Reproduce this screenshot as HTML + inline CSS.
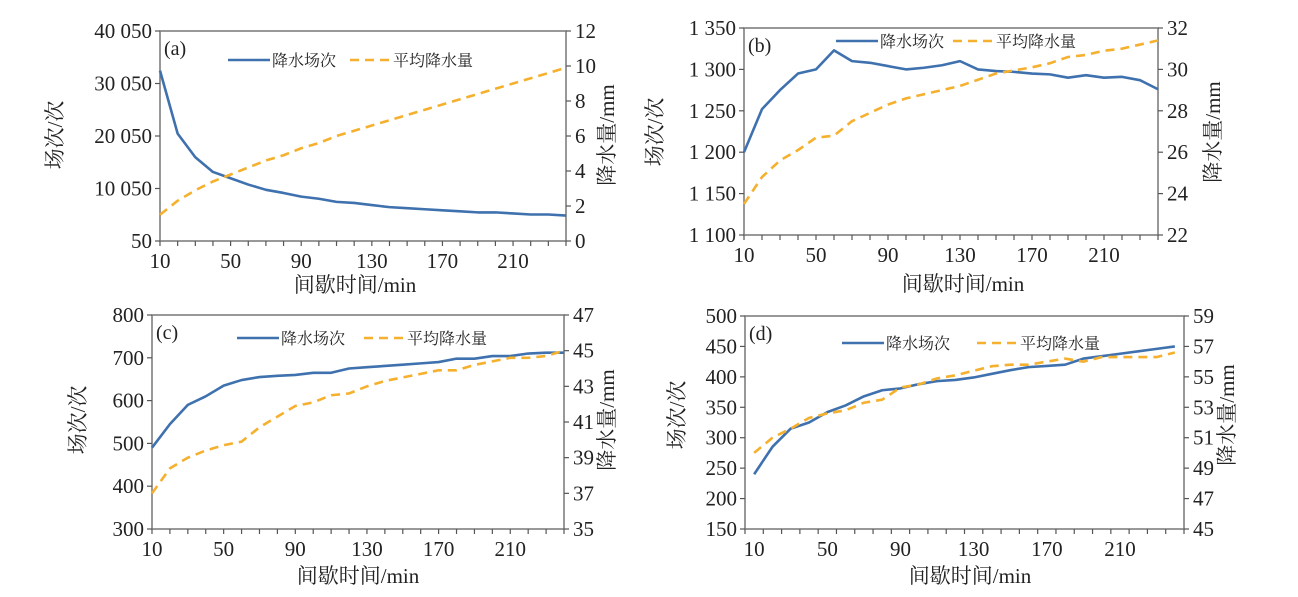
<!DOCTYPE html>
<html><head><meta charset="utf-8">
<style>
html,body{margin:0;padding:0;background:#fff;}
svg{display:block;font-family:"Liberation Serif","Noto Serif CJK SC",serif;}
</style></head>
<body>
<svg id="chart" width="1298" height="597" viewBox="0 0 1298 597"></svg>
<script>
const categories = [10,20,30,40,50,60,70,80,90,100,110,120,130,140,150,160,170,180,190,200,210,220,230,240];
const xTickLabels = [10,50,90,130,170,210];
const countA = [32500,20500,16000,13200,12000,10800,9800,9200,8500,8100,7500,7300,6900,6500,6300,6100,5900,5700,5500,5500,5300,5100,5100,4900];
const rainA = [1.5,2.3,2.9,3.4,3.8,4.2,4.6,4.9,5.3,5.6,6.0,6.3,6.6,6.9,7.2,7.5,7.8,8.1,8.4,8.7,9.0,9.3,9.6,9.9];
const countB = [1200,1252,1275,1295,1300,1323,1310,1308,1304,1300,1302,1305,1310,1300,1298,1297,1295,1294,1290,1293,1290,1291,1287,1276];
const rainB = [23.5,24.8,25.6,26.1,26.7,26.8,27.5,27.9,28.3,28.6,28.8,29.0,29.2,29.5,29.8,29.95,30.1,30.3,30.6,30.7,30.9,31.0,31.2,31.4];
const countC = [490,545,590,610,635,648,655,658,660,665,665,675,678,681,684,687,690,698,698,704,704,710,712,712];
const rainC = [37.0,38.4,39.0,39.4,39.7,39.9,40.7,41.3,41.9,42.1,42.5,42.6,43.0,43.3,43.5,43.7,43.9,43.9,44.2,44.4,44.6,44.6,44.7,45.0];
const countD = [240,285,315,325,342,353,368,378,381,388,393,395,399,405,411,416,418,420,430,434,438,442,446,450];
const rainD = [50.0,51.0,51.6,52.3,52.6,52.8,53.3,53.5,54.3,54.5,54.9,55.1,55.4,55.7,55.8,55.8,56.0,56.2,56.0,56.3,56.3,56.3,56.3,56.6];
const leftTicksA = ["50","10  050","20  050","30  050","40  050"];
const leftTicksB = ["1  100","1  150","1  200","1  250","1  300","1  350"];
const leftTicksC = ["300","400","500","600","700","800"];
const leftTicksD = ["150","200","250","300","350","400","450","500"];
const rightTicksA = ["0","2","4","6","8","10","12"];
const rightTicksB = ["22","24","26","28","30","32"];
const rightTicksC = ["35","37","39","41","43","45","47"];
const rightTicksD = ["45","47","49","51","53","55","57","59"];

const NS="http://www.w3.org/2000/svg";
const svg=document.getElementById('chart');
function mk(tag,attrs,parent,text){const e=document.createElementNS(NS,tag);for(const k in attrs)e.setAttribute(k,attrs[k]);if(text!==undefined)e.textContent=text;(parent||svg).appendChild(e);return e;}

const panels=[
 {id:'a',L:160,R:566,T:31,B:241,lMin:50,lMax:40050,lTicks:leftTicksA,rMin:0,rMax:12,rTicks:rightTicksA,count:countA,rain:rainA,centered:false,
  leg:{bx:228,ox:350,y:60},ly:135,lx:62,rx:614,xt:355,xty:292},
 {id:'b',L:744,R:1158,T:28,B:235,lMin:1100,lMax:1350,lTicks:leftTicksB,rMin:22,rMax:32,rTicks:rightTicksB,count:countB,rain:rainB,centered:false,
  leg:{bx:836,ox:953,y:41},ly:132,lx:662,rx:1220,xt:963,xty:291},
 {id:'c',L:152,R:564,T:315,B:529,lMin:300,lMax:800,lTicks:leftTicksC,rMin:35,rMax:47,rTicks:rightTicksC,count:countC,rain:rainC,centered:false,
  leg:{bx:237,ox:364,y:338},ly:420,lx:85,rx:614,xt:358,xty:583},
 {id:'d',L:745,R:1184,T:316,B:529,lMin:150,lMax:500,lTicks:leftTicksD,rMin:45,rMax:59,rTicks:rightTicksD,count:countD,rain:rainD,centered:true,
  leg:{bx:842,ox:977,y:343},ly:415,lx:684,rx:1234,xt:970,xty:583}
];

panels.forEach(p=>{
  const g=mk('g',{});
  
  
  const n=categories.length;
  const xs=v=>{const i=categories.indexOf(v);
    if(p.centered){const w=(p.R-p.L)/n;return p.L+w*(i+0.5);}
    return p.L+(p.R-p.L)*(v-categories[0])/(categories[n-1]-categories[0]);};
  const yl=v=>p.B-(v-p.lMin)/(p.lMax-p.lMin)*(p.B-p.T);
  const yr=v=>p.B-(v-p.rMin)/(p.rMax-p.rMin)*(p.B-p.T);
  const frame=mk('rect',{x:p.L,y:p.T,width:p.R-p.L,height:p.B-p.T,fill:'none',stroke:'#777','stroke-width':1.5},g);
  
  
  const nt=p.centered?n+1:n;
  for(let i=0;i<nt;i++){
    const x=p.centered?p.L+(p.R-p.L)*i/n:xs(categories[i]);
    mk('line',{x1:x,x2:x,y1:p.B,y2:p.B+5,stroke:'#555','stroke-width':1.2},g);
  }
  xTickLabels.forEach(v=>{
    const t=mk('text',{x:xs(v),y:p.B+27,'text-anchor':'middle','font-size':21,fill:'#222'},g,String(v));
    
    
  });
  p.lTicks.forEach((lab,i)=>{
    const v=p.lMin+(p.lMax-p.lMin)*i/(p.lTicks.length-1);
    const y=yl(v);
    mk('line',{x1:p.L-5,x2:p.L,y1:y,y2:y,stroke:'#555','stroke-width':1.2},g);
    const t=mk('text',{x:p.L-8,y:y+7,'text-anchor':'end','font-size':21,fill:'#222','xml:space':'preserve'},g,lab);
    
    
  });
  p.rTicks.forEach((lab,i)=>{
    const v=p.rMin+(p.rMax-p.rMin)*i/(p.rTicks.length-1);
    const y=yr(v);
    mk('line',{x1:p.R,x2:p.R+5,y1:y,y2:y,stroke:'#555','stroke-width':1.2},g);
    const t=mk('text',{x:p.R+9,y:y+7,'text-anchor':'start','font-size':21,fill:'#222'},g,lab);
    
    
  });
  const bl=mk('polyline',{points:categories.map((c,i)=>xs(c)+','+yl(p.count[i])).join(' '),fill:'none',stroke:'#3e71ae','stroke-width':2.6,'stroke-linejoin':'round'},g);
  
  
  const ol=mk('polyline',{points:categories.map((c,i)=>xs(c)+','+yr(p.rain[i])).join(' '),fill:'none',stroke:'#f5b02e','stroke-width':2.6,'stroke-dasharray':'9,6'},g);
  
  
  const pl=mk('text',{x:p.L+4,y:p.T+24,'font-size':20,fill:'#222'},g,'('+p.id+')');
  
  
  const lg=mk('g',{},g);
  
  
  mk('line',{x1:p.leg.bx,x2:p.leg.bx+42,y1:p.leg.y,y2:p.leg.y,stroke:'#3e71ae','stroke-width':2.6},lg);
  const t1=mk('text',{x:p.leg.bx+44,y:p.leg.y+6,'font-size':16,fill:'#222'},lg,'降水场次');
  
  
  mk('line',{x1:p.leg.ox,x2:p.leg.ox+42,y1:p.leg.y,y2:p.leg.y,stroke:'#f5b02e','stroke-width':2.6,'stroke-dasharray':'9,6'},lg);
  const t2=mk('text',{x:p.leg.ox+43,y:p.leg.y+6,'font-size':16,fill:'#222'},lg,'平均降水量');
  
  
  const yt=mk('text',{x:p.lx,y:p.ly,'font-size':21,fill:'#222','text-anchor':'middle',transform:'rotate(-90 '+p.lx+' '+p.ly+')'},g,'场次/次');
  
  
  const rt=mk('text',{x:p.rx,y:p.ly,'font-size':21,fill:'#222','text-anchor':'middle',transform:'rotate(-90 '+p.rx+' '+p.ly+')'},g,'降水量/mm');
  
  
  const xt=mk('text',{x:p.xt,y:p.xty,'font-size':21,fill:'#222','text-anchor':'middle'},g,'间歇时间/min');
  
  
});
</script>
</body></html>
